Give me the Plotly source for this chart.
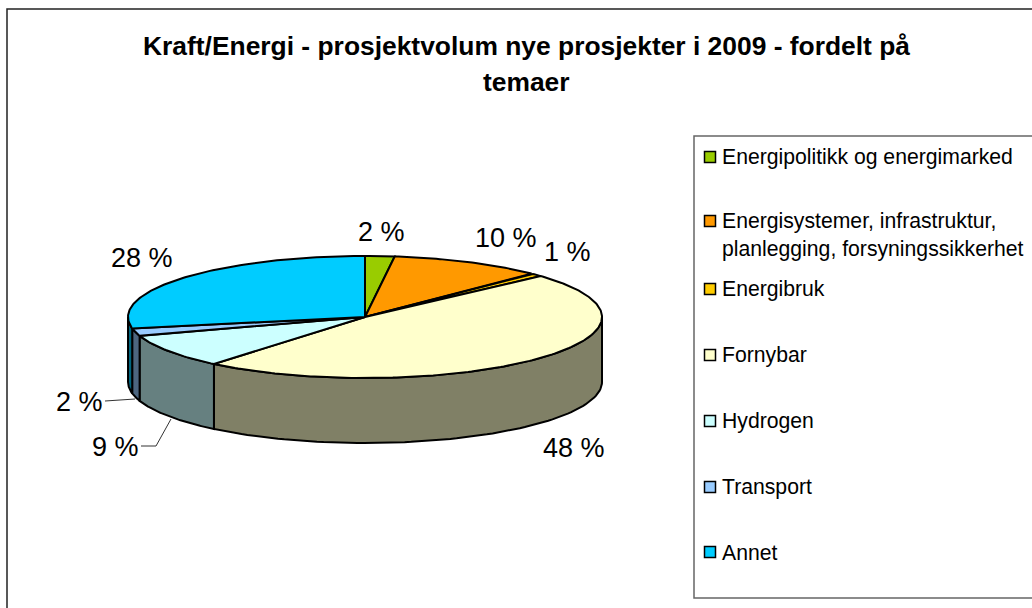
import numpy as np
import plotly.graph_objects as go

categories = ["Energipolitikk og energimarked", "Energisystemer, infrastruktur,<br>planlegging, forsyningssikkerhet",
              "Energibruk", "Fornybar", "Hydrogen", "Transport", "Annet"]
values = [2.0, 10.4, 0.9, 47.7, 9.0, 2.0, 28.0]
labels = ["2 %", "10 %", "1 %", "48 %", "9 %", "2 %", "28 %"]
colors = ["#99CC00", "#FF9900", "#FFCC00", "#FFFFCC", "#CCFFFF", "#99CCFF", "#00CCFF"]
side_colors = ["#4D6600", "#804D00", "#806600", "#808066", "#668080", "#4D6680", "#006680"]
title_lines = ["Kraft/Energi - prosjektvolum nye prosjekter i 2009 - fordelt på", "temaer"]

CX, CY, RX, RY, DEPTH = 365, 317, 237, 61, 65
FONT = "Liberation Sans, Arial, sans-serif"

fig = go.Figure()
edges = 2 * np.pi * np.concatenate([[0], np.cumsum(values)]) / sum(values)

def ex(t): return CX + RX * np.sin(t)
def ey(t): return CY - RY * np.cos(t)

def poly(x, y, fill, lw=2):
    fig.add_trace(go.Scatter(x=list(x), y=list(y), mode="lines", fill="toself", fillcolor=fill,
                             line=dict(color="black", width=lw), hoverinfo="skip", showlegend=False))

# outer rim: only the front half (pi/2..3pi/2) is visible
for i in range(len(values)):
    a, b = max(edges[i], np.pi / 2), min(edges[i + 1], 3 * np.pi / 2)
    if b > a:
        t = np.linspace(a, b, 80)
        poly(np.r_[ex(t), ex(t[::-1]), ex(t[0])], np.r_[ey(t), ey(t[::-1]) + DEPTH, ey(t[0])], side_colors[i])

# top faces
for i in range(len(values)):
    t = np.linspace(edges[i], edges[i + 1], max(int(values[i] * 4), 8))
    poly(np.r_[CX, ex(t), CX], np.r_[CY, ey(t), CY], colors[i])

# data labels
label_pos = [(381, 232), (506, 238), (567, 252), (574, 448), (115, 447), (79, 402), (142, 258)]
for txt, (x, y) in zip(labels, label_pos):
    fig.add_annotation(x=x, y=y, text=txt, showarrow=False, font=dict(family=FONT, size=27, color="black"))

# leader lines
leaders = [([105, 135], [401, 399]), ([141, 156, 171], [446, 446, 419])]
for lx, ly in leaders:
    fig.add_trace(go.Scatter(x=lx, y=ly, mode="lines", line=dict(color="#333333", width=1),
                             hoverinfo="skip", showlegend=False))

# title
for line, y in zip(title_lines, [46, 82]):
    fig.add_annotation(x=526, y=y, text=f"<b>{line}</b>", showarrow=False,
                       font=dict(family=FONT, size=26.4, color="black"))

# frame and legend box
fig.add_shape(type="rect", x0=7, y0=9, x1=1100, y1=700, line=dict(color="#222222", width=1.5), layer="below")
fig.add_shape(type="rect", x0=694, y0=136, x1=1100, y1=598, line=dict(color="#666666", width=1.5), layer="below")
legend_y = [157, 221, 289, 355, 421, 487, 552]
text_y = [157, 235, 289, 355, 421, 487, 552]
for name, col, ly, ty in zip(categories, colors, legend_y, text_y):
    fig.add_trace(go.Scatter(x=[710], y=[ly], mode="markers",
                             marker=dict(symbol="square", size=11, color=col, line=dict(color="black", width=1.5)),
                             hoverinfo="skip", showlegend=False))
    fig.add_annotation(x=720, y=ty, text=name, xanchor="left", showarrow=False, align="left",
                       font=dict(family=FONT, size=21.2, color="black"))

fig.update_layout(width=1032, height=608, margin=dict(l=0, r=0, t=0, b=0),
                  plot_bgcolor="white", paper_bgcolor="white",
                  xaxis=dict(range=[0, 1032], visible=False, domain=[0, 1]),
                  yaxis=dict(range=[608, 0], visible=False, domain=[0, 1]))
fig.write_html("out.html", config=dict(displayModeBar=False),
               post_script="document.body.style.margin='0';document.body.style.overflow='hidden';")
